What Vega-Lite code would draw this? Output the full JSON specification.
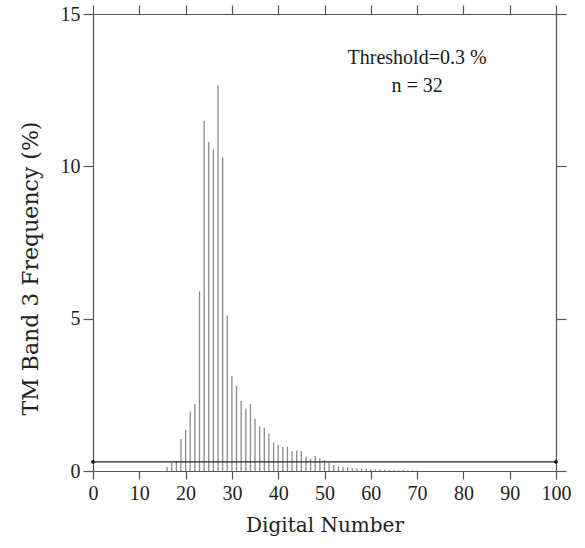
{
  "$schema": "https://vega.github.io/schema/vega-lite/v6.json",
  "width": 463,
  "height": 457,
  "autosize": "none",
  "padding": {"left": 93, "top": 14, "right": 29, "bottom": 77},
  "background": "white",
  "config": {
    "view": {"stroke": null},
    "font": "Liberation Serif",
    "axis": {
      "grid": false,
      "domainColor": "#555",
      "tickColor": "#555",
      "domainWidth": 1.2,
      "tickWidth": 1.2,
      "labelColor": "#222",
      "titleColor": "#222",
      "labelFont": "Liberation Serif",
      "labelFontSize": 20,
      "labelFlush": false,
      "labelOverlap": false,
      "titleFont": "DejaVu Serif",
      "titleFontSize": 20,
      "titleFontWeight": "normal"
    }
  },
  "datasets": {
    "hist": [
      {"dn": 16, "pct": 0.14}, {"dn": 17, "pct": 0.26}, {"dn": 18, "pct": 0.33},
      {"dn": 19, "pct": 1.05}, {"dn": 20, "pct": 1.35}, {"dn": 21, "pct": 1.95},
      {"dn": 22, "pct": 2.2}, {"dn": 23, "pct": 5.9}, {"dn": 24, "pct": 11.5},
      {"dn": 25, "pct": 10.8}, {"dn": 26, "pct": 10.55}, {"dn": 27, "pct": 12.65},
      {"dn": 28, "pct": 10.3}, {"dn": 29, "pct": 5.1}, {"dn": 30, "pct": 3.13},
      {"dn": 31, "pct": 2.8}, {"dn": 32, "pct": 2.3}, {"dn": 33, "pct": 2.05},
      {"dn": 34, "pct": 2.2}, {"dn": 35, "pct": 1.72}, {"dn": 36, "pct": 1.46},
      {"dn": 37, "pct": 1.42}, {"dn": 38, "pct": 1.23}, {"dn": 39, "pct": 0.94},
      {"dn": 40, "pct": 0.86}, {"dn": 41, "pct": 0.8}, {"dn": 42, "pct": 0.8},
      {"dn": 43, "pct": 0.65}, {"dn": 44, "pct": 0.67}, {"dn": 45, "pct": 0.66},
      {"dn": 46, "pct": 0.48}, {"dn": 47, "pct": 0.4}, {"dn": 48, "pct": 0.49},
      {"dn": 49, "pct": 0.43}, {"dn": 50, "pct": 0.36}, {"dn": 51, "pct": 0.27},
      {"dn": 52, "pct": 0.2}, {"dn": 53, "pct": 0.16}, {"dn": 54, "pct": 0.14},
      {"dn": 55, "pct": 0.12}, {"dn": 56, "pct": 0.1}, {"dn": 57, "pct": 0.09},
      {"dn": 58, "pct": 0.08}, {"dn": 59, "pct": 0.07}, {"dn": 60, "pct": 0.06},
      {"dn": 61, "pct": 0.05}, {"dn": 62, "pct": 0.05}, {"dn": 63, "pct": 0.04},
      {"dn": 64, "pct": 0.04}, {"dn": 65, "pct": 0.03}, {"dn": 66, "pct": 0.03},
      {"dn": 67, "pct": 0.03}, {"dn": 68, "pct": 0.02}, {"dn": 69, "pct": 0.02},
      {"dn": 70, "pct": 0.02}
    ],
    "thr": [{"dn": 0, "pct": 0.3}, {"dn": 100, "pct": 0.3}],
    "notes": [
      {"dn": 70, "pct": 13.55, "label": "Threshold=0.3 %"},
      {"dn": 70, "pct": 12.63, "label": "n = 32"}
    ]
  },
  "resolve": {"axis": {"x": "independent", "y": "independent"}},
  "layer": [
    {
      "data": {"name": "hist"},
      "mark": {"type": "rule", "color": "#8c8c8c", "strokeWidth": 1.3},
      "encoding": {
        "x": {
          "field": "dn", "type": "quantitative",
          "scale": {"domain": [0, 100], "nice": false, "zero": false},
          "axis": {
            "orient": "bottom",
            "values": [0, 10, 20, 30, 40, 50, 60, 70, 80, 90, 100],
            "tickSize": 8, "labelPadding": 4,
            "title": "Digital Number", "titlePadding": 12
          }
        },
        "y": {
          "field": "pct", "type": "quantitative",
          "scale": {"domain": [0, 15], "nice": false},
          "axis": {
            "orient": "left",
            "values": [0, 5, 10, 15],
            "tickSize": 10, "labelPadding": 3,
            "title": "TM Band 3 Frequency (%)", "titlePadding": 18,
            "titleFontSize": 22, "titleY": 254
          }
        },
        "y2": {"datum": 0}
      }
    },
    {
      "data": {"name": "thr"},
      "mark": {"type": "line", "color": "#222", "strokeWidth": 1.3},
      "encoding": {
        "x": {
          "field": "dn", "type": "quantitative",
          "scale": {"domain": [0, 100], "nice": false, "zero": false},
          "axis": {
            "orient": "top",
            "values": [0, 10, 20, 30, 40, 50, 60, 70, 80, 90, 100],
            "tickSize": 9, "labels": false, "title": null
          }
        },
        "y": {
          "field": "pct", "type": "quantitative",
          "scale": {"domain": [0, 15], "nice": false},
          "axis": {
            "orient": "right",
            "values": [0, 5, 10, 15],
            "tickSize": 10, "labels": false, "title": null
          }
        }
      }
    },
    {
      "data": {"name": "thr"},
      "mark": {"type": "point", "filled": true, "color": "#111", "size": 14, "opacity": 1},
      "encoding": {
        "x": {"field": "dn", "type": "quantitative", "axis": null},
        "y": {"field": "pct", "type": "quantitative", "axis": null}
      }
    },
    {
      "data": {"name": "notes"},
      "mark": {"type": "text", "font": "Liberation Serif", "fontSize": 20, "color": "#1a1a1a", "align": "center", "baseline": "middle"},
      "encoding": {
        "x": {"field": "dn", "type": "quantitative", "axis": null},
        "y": {"field": "pct", "type": "quantitative", "axis": null},
        "text": {"field": "label"}
      }
    }
  ]
}
